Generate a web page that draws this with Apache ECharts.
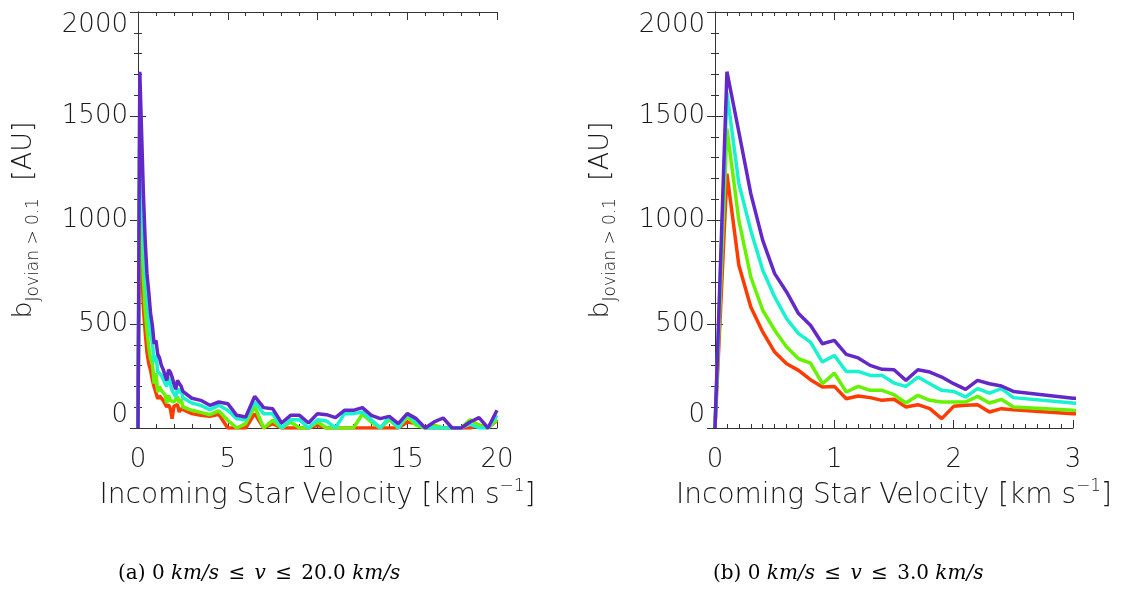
<!DOCTYPE html>
<html>
<head>
<meta charset="utf-8">
<script src="https://cdn.jsdelivr.net/npm/echarts@6/dist/echarts.min.js"></script>
<style>
html, body { margin: 0; padding: 0; background: #fff; }
#chart { width: 1126px; height: 593px; }
</style>
</head>
<body>
<div id="chart"></div>
<script>
// incoming star velocity [km/s]
var velocity = [0, 0.1, 0.2, 0.3, 0.4, 0.5, 0.6, 0.7, 0.8, 0.9, 1.0, 1.1, 1.2, 1.3, 1.4, 1.5, 1.6, 1.7, 1.8, 1.9, 2.0, 2.1, 2.2, 2.3, 2.4, 2.5,
    3.0, 3.5, 4.0, 4.5, 5.0, 5.5, 6.0, 6.5, 7.0, 7.5, 8.0, 8.5, 9.0, 9.5, 10.0, 10.5, 11.0, 11.5, 12.0, 12.5, 13.0, 13.5, 14.0, 14.5,
    15.0, 15.5, 16.0, 16.5, 17.0, 17.5, 18.0, 18.5, 19.0, 19.5, 20.0]
// b [AU], one curve per colour
var purpleB = [0, 1713, 1423, 1127, 902, 742, 654, 550, 494, 405, 421, 354, 337, 301, 282, 280, 229, 280, 269, 245, 213, 186, 229, 213, 202, 176,
    143, 133, 109, 125, 117, 61, 53, 152, 98, 93, 24, 61, 61, 24, 69, 64, 50, 85, 85, 98, 61, 45, 56, 21, 69, 45, 0, 29, 48, 0, 0, 29, 50, 0, 85]
var cyanB = [0, 1612, 1175, 950, 758, 630, 526, 454, 413, 317, 349, 272, 272, 253, 253, 216, 200, 245, 213, 181, 176, 149, 189, 168, 189, 146,
    120, 109, 88, 109, 85, 45, 40, 125, 69, 69, 0, 40, 40, 0, 40, 34, 0, 69, 69, 77, 40, 0, 53, 0, 69, 29, 0, 0, 0, 0, 0, 18, 0, 0, 61]
var greenB = [0, 1439, 998, 726, 566, 470, 389, 333, 312, 213, 264, 173, 200, 181, 181, 160, 120, 157, 133, 125, 125, 125, 152, 120, 138, 101,
    85, 75, 64, 82, 37, 0, 21, 104, 0, 37, 0, 29, 0, 0, 29, 0, 0, 0, 0, 66, 29, 0, 40, 0, 53, 13, 0, 13, 0, 0, 0, 40, 13, 0, 40]
var redB = [0, 1223, 782, 582, 462, 365, 309, 277, 232, 197, 200, 141, 154, 146, 133, 138, 101, 112, 93, 45, 104, 109, 112, 77, 93, 88,
    69, 61, 56, 66, 0, 0, 0, 69, 0, 21, 0, 0, 0, 0, 13, 0, 0, 0, 0, 0, 0, 0, 0, 0, 29, 21, 0, 0, 0, 0, 0, 0, 13, 0, 37]

var curves = [
    { data: redB, color: '#ff3c00' },
    { data: greenB, color: '#66f200' },
    { data: cyanB, color: '#19f2cf' },
    { data: purpleB, color: '#6428c8' }
]
var xMaxes = [20, 3]
var xSteps = [5, 1]
var xMinor = [5, 10]

var font = 'DejaVu Sans'
var ink = '#1a1a1a'

$chart = echarts.init(document.getElementById('chart'))

function pairs(ys) {
    var out = []
    for (var i = 0; i < velocity.length; i++) out.push([velocity[i], ys[i]])
    return out
}

function plain(v) {
    return String(v)
}

function xAxisFor(g, pos) {
    var bottom = pos == 'bottom'
    return {
        type: 'value', gridIndex: g, position: pos,
        min: 0, max: xMaxes[g], interval: xSteps[g],
        axisLine: { show: true, onZero: false, lineStyle: { color: '#333', width: 1 } },
        axisTick: { show: true, inside: true, length: 8, lineStyle: { color: '#333' } },
        minorTick: { show: true, splitNumber: xMinor[g], length: 4, lineStyle: { color: '#333' } },
        splitLine: { show: false },
        axisLabel: { show: bottom, margin: 19, fontSize: 26, fontFamily: font, fontWeight: 200, color: ink, formatter: plain },
        name: bottom ? '{m|Incoming Star Velocity [km s}{p|\u22121}{m|]}' : '',
        nameLocation: 'middle', nameGap: 50,
        nameTextStyle: {
            rich: {
                m: { fontSize: 28, lineHeight: 36, fontFamily: font, fontWeight: 200, color: ink },
                p: { fontSize: 17, lineHeight: 17, verticalAlign: 'top', fontFamily: font, fontWeight: 200, color: ink }
            }
        }
    }
}

function yAxisFor(g, pos) {
    var left = pos == 'left'
    return {
        type: 'value', gridIndex: g, position: pos,
        min: 0, max: 2000, interval: 500,
        axisLine: { show: true, lineStyle: { color: '#333', width: 1 } },
        axisTick: { show: true, inside: true, length: 8, lineStyle: { color: '#333' } },
        minorTick: { show: true, splitNumber: 5, length: 4, lineStyle: { color: '#333' } },
        splitLine: { show: false },
        axisLabel: {
            show: left, margin: 10, fontSize: 26, fontFamily: font, fontWeight: 200, color: ink, formatter: plain,
            verticalAlignMinLabel: 'bottom', verticalAlignMaxLabel: 'top'
        },
        name: left ? '{m|b}{s|Jovian > 0.1}{m|  [AU]}' : '',
        nameLocation: 'middle', nameGap: 96,
        nameTextStyle: {
            rich: {
                m: { fontSize: 27, lineHeight: 36, fontFamily: font, fontWeight: 200, color: ink },
                s: { fontSize: 17, lineHeight: 17, verticalAlign: 'bottom', fontFamily: font, fontWeight: 200, color: ink }
            }
        }
    }
}

var series = []
for (var g = 0; g < 2; g++) {
    curves.forEach(function (c) {
        series.push({
            type: 'line', xAxisIndex: g * 2, yAxisIndex: g * 2,
            data: pairs(c.data), showSymbol: false, clip: true,
            lineStyle: { color: c.color, width: 3.5 },
            itemStyle: { color: c.color }
        })
    })
}

// LaTeX-like caption: roman text, italic maths, wide spacing round the relations
var caption = {
    n: { fontSize: 20, fontFamily: 'DejaVu Serif', fill: '#000' },
    i: { fontSize: 20, fontFamily: 'DejaVu Serif', fontStyle: 'italic', fill: '#000' },
    r: { fontSize: 20, fontFamily: 'DejaVu Serif', fill: '#000', padding: [0, 3, 0, 3] }
}

var option = {
    animation: false,
    grid: [
        { left: 138, top: 12, width: 359, height: 416 },
        { left: 715, top: 12, width: 358, height: 416 }
    ],
    xAxis: [xAxisFor(0, 'bottom'), xAxisFor(0, 'top'), xAxisFor(1, 'bottom'), xAxisFor(1, 'top')],
    yAxis: [yAxisFor(0, 'left'), yAxisFor(0, 'right'), yAxisFor(1, 'left'), yAxisFor(1, 'right')],
    series: series,
    graphic: [
        {
            type: 'text', left: 118, top: 564,
            style: { text: '{n|(a) 0 }{i|km/s}{r| \u2264 }{i|v}{r| \u2264 }{n|20.0 }{i|km/s}', rich: caption }
        },
        {
            type: 'text', left: 713, top: 564,
            style: { text: '{n|(b) 0 }{i|km/s}{r| \u2264 }{i|v}{r| \u2264 }{n|3.0 }{i|km/s}', rich: caption }
        }
    ]
}
$chart.setOption(option)
</script>
</body>
</html>
